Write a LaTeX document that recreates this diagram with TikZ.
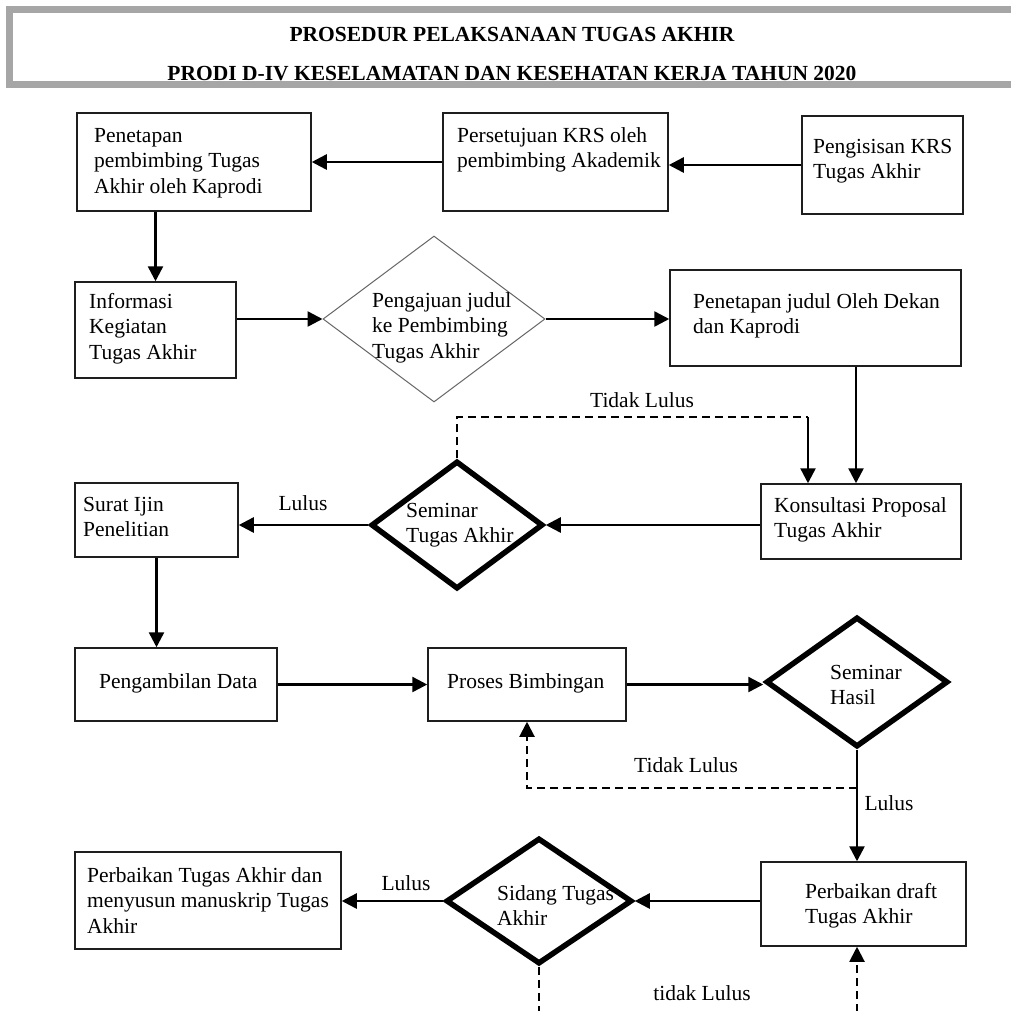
\documentclass[tikz,border=0pt]{standalone}
\usepackage{fontspec}
\setmainfont{Liberation Serif}
\usetikzlibrary{shapes.geometric,arrows.meta}
\definecolor{headgray}{RGB}{166,166,166}
\definecolor{boxline}{RGB}{30,30,30}
\begin{document}
\begin{tikzpicture}[x=1pt,y=-1pt,
  box/.style={draw=boxline, line width=1.5pt, rectangle, inner sep=0pt},
  txt/.style={font=\fontsize{21.5}{25.5}\selectfont, align=left, inner sep=0pt, anchor=north west},
  lbl/.style={font=\fontsize{21.5}{25.5}\selectfont, inner sep=0pt},
  head/.style={font=\bfseries\fontsize{21.5}{25}\selectfont, inner sep=0pt, anchor=base},
  dia/.style={diamond, draw=black, line width=5.5pt, inner sep=0pt, line join=miter},
  thindia/.style={diamond, draw=black!60, line width=1pt, inner sep=0pt},
  arr/.style={line width=2.5pt, -{Triangle[length=15pt,width=15pt]}},
  dashln/.style={line width=2pt, dash pattern=on 8pt off 5pt}
]
\useasboundingbox (0,0) rectangle (1011,1010);
\fill[white] (0,0) rectangle (1011,1010);

% header
\draw[line width=7pt, headgray] (1011,9.5) -- (9.5,9.5) -- (9.5,84.5) -- (1011,84.5);
\node[head] (h1) at (512,41.7) {PROSEDUR PELAKSANAAN TUGAS AKHIR};
\node[head] (h2) at (512,80) {PRODI D-IV KESELAMATAN DAN KESEHATAN KERJA TAHUN 2020};

% boxes
\node[box, minimum width=234pt, minimum height=98pt] (b1) at (194,162) {};
\node[box, minimum width=225pt, minimum height=98pt] (b2) at (555.5,162) {};
\node[box, minimum width=161pt, minimum height=98pt] (b3) at (882.5,165) {};
\node[box, minimum width=161pt, minimum height=96pt] (b4) at (155.5,330) {};
\node[box, minimum width=291pt, minimum height=96pt] (b5) at (815.5,318) {};
\node[box, minimum width=200pt, minimum height=75pt] (b6) at (861,521.5) {};
\node[box, minimum width=163pt, minimum height=74pt] (b7) at (156.5,520) {};
\node[box, minimum width=202pt, minimum height=73pt] (b8) at (176,684.5) {};
\node[box, minimum width=198pt, minimum height=73pt] (b9) at (527,684.5) {};
\node[box, minimum width=205pt, minimum height=84pt] (b10) at (863.5,904) {};
\node[box, minimum width=266pt, minimum height=97pt] (b11) at (208,900.5) {};

% diamonds
\node[thindia, minimum width=222pt, minimum height=166pt] (d1) at (434,319) {};
\node[dia, minimum width=172pt, minimum height=128pt] (d2) at (457,525) {};
\node[dia, minimum width=182pt, minimum height=130pt] (d3) at (857,682) {};
\node[dia, minimum width=186pt, minimum height=126pt] (d4) at (539,901) {};

% texts
\node[txt] (b1t) at (94,128) {Penetapan\\pembimbing Tugas\\Akhir oleh Kaprodi};
\node[txt] (b2t) at (457,127) {Persetujuan KRS oleh\\pembimbing Akademik};
\node[txt] (b3t) at (813,139) {Pengisisan KRS\\Tugas Akhir};
\node[txt] (b4t) at (89,293) {Informasi\\Kegiatan\\Tugas Akhir};
\node[txt] (d1t) at (372,292) {Pengajuan judul\\ke Pembimbing\\Tugas Akhir};
\node[txt] (b5t) at (693,293) {Penetapan judul Oleh Dekan\\dan Kaprodi};
\node[txt] (b6t) at (774,497) {Konsultasi Proposal\\Tugas Akhir};
\node[txt] (d2t) at (406,503) {Seminar\\Tugas Akhir};
\node[txt] (b7t) at (83,497) {Surat Ijin\\Penelitian};
\node[txt] (b8t) at (99,673) {Pengambilan Data};
\node[txt] (b9t) at (447,673) {Proses Bimbingan};
\node[txt] (d3t) at (830,665) {Seminar\\Hasil};
\node[txt] (b10t) at (805,883) {Perbaikan draft\\Tugas Akhir};
\node[txt] (d4t) at (497,885) {Sidang Tugas\\Akhir};
\node[txt] (b11t) at (87,867) {Perbaikan Tugas Akhir dan\\menyusun manuskrip Tugas\\Akhir};

% connectors
\draw[arr] (b3.west) -- (b3.west -| b2.east);
\draw[arr] (b2.west) -- (b2.west -| b1.east);
\draw[arr] (b4.north |- b1.south) -- (b4.north);
\draw[arr] (b4.east |- d1.west) -- (d1.west);
\draw[arr] (d1.east) -- (d1.east -| b5.west);
\coordinate (k1) at ([xshift=-5pt]b6.north);
\draw[arr] (k1 |- b5.south) -- (k1);
\coordinate (t1) at (808,417);
\draw[dashln] (d2.north) |- (t1);
\draw[arr] (t1) -- (t1 |- b6.north);
\node[lbl] (l1) at (642,400) {Tidak Lulus};
\draw[arr] (b6.west |- d2.east) -- (d2.east);
\draw[arr] (d2.west) -- (d2.west -| b7.east);
\node[lbl] (l2) at (303,503) {Lulus};
\draw[arr] (b7.south) -- (b7.south |- b8.north);
\draw[arr] (b8.east) -- (b9.west);
\draw[arr] (b9.east) -- (b9.east -| d3.west);
\draw[arr] (d3.south) -- (d3.south |- b10.north);
\coordinate (t2) at (857,788);
\draw[dashln, -{Triangle[length=15pt,width=15pt]}] (t2) -| (b9.south);
\node[lbl] (l3) at (686,765) {Tidak Lulus};
\node[lbl] (l4) at (889,803) {Lulus};
\draw[arr] (b10.west |- d4.east) -- (d4.east);
\draw[arr] (d4.west) -- (d4.west -| b11.east);
\node[lbl] (l5) at (406,883) {Lulus};
\coordinate (t3) at (539,1012);
\draw[dashln] (d4.south) -- (t3);
\coordinate (t4) at (857,1012);
\draw[dashln, -{Triangle[length=15pt,width=15pt]}] (t4) -- (t4 |- b10.south);
\node[lbl] (l6) at (702,993) {tidak Lulus};
\end{tikzpicture}
\end{document}
